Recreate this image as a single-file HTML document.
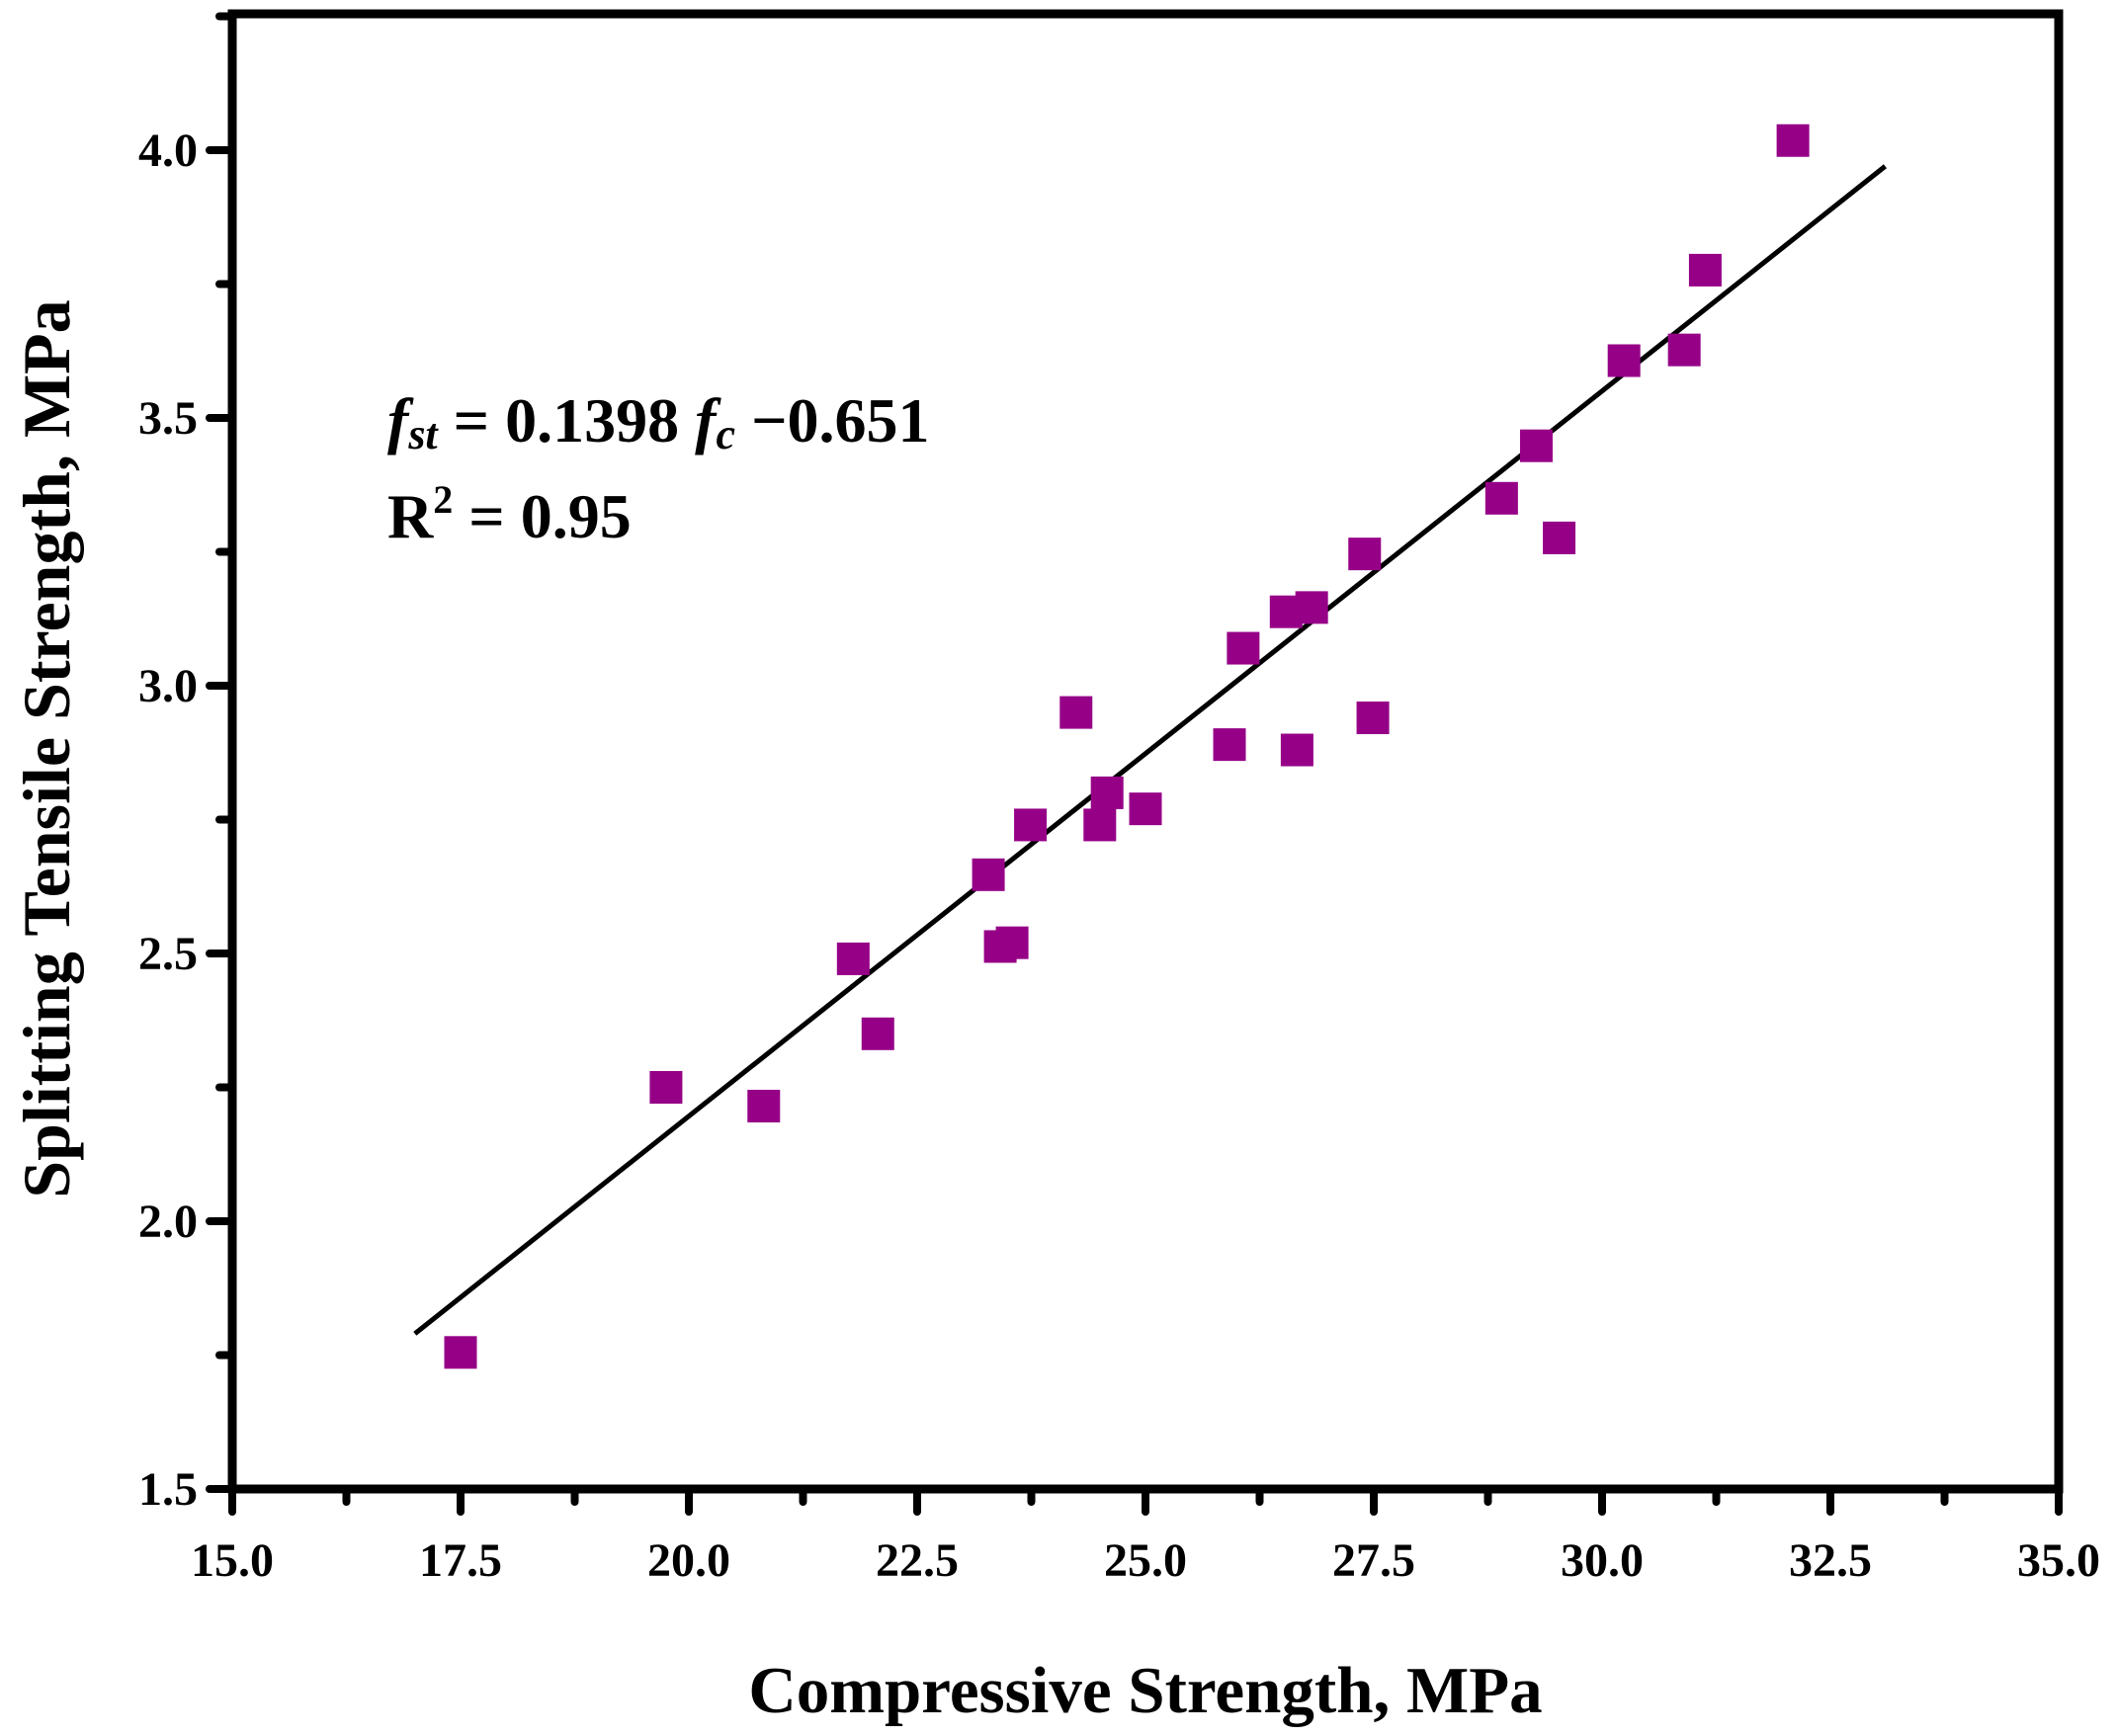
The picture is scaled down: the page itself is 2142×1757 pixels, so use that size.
<!DOCTYPE html>
<html><head><meta charset="utf-8"><style>
html,body{margin:0;padding:0;background:#fff;}
svg{display:block;font-family:"Liberation Serif",serif;font-weight:bold;}
</style></head><body>
<svg id="chart" width="2142" height="1757" viewBox="0 0 2142 1757" xmlns="http://www.w3.org/2000/svg">
<g id="ticks"></g>
<g id="marks"></g>
<rect x="235" y="14" width="1848" height="1493" fill="none" stroke="#000" stroke-width="9"/>
<text x="392" y="447" font-size="64"><tspan font-style="italic">f</tspan><tspan font-style="italic" font-size="44" dy="7">st</tspan><tspan dy="-7"> = 0.1398 </tspan><tspan font-style="italic">f</tspan><tspan font-style="italic" font-size="44" dy="7">c</tspan><tspan dy="-7"> −0.651</tspan></text>
<text x="392" y="544" font-size="64">R<tspan font-size="40" dy="-25">2</tspan><tspan dy="25"> = 0.95</tspan></text>
<text x="1159" y="1733" font-size="67" text-anchor="middle">Compressive Strength, MPa</text>
<text transform="translate(70,758) rotate(-90)" font-size="68" text-anchor="middle">Splitting Tensile Strength, MPa</text>
</svg>
<script>
const xData = [17.5,19.75,20.82,21.8,22.07,23.28,23.41,23.54,23.74,24.24,24.5,24.58,25.0,25.92,26.07,26.54,26.66,26.82,27.4,27.49,28.9,29.28,29.53,30.24,30.9,31.13,32.09];
const yData = [1.755,2.25,2.215,2.49,2.35,2.647,2.513,2.52,2.74,2.95,2.74,2.80,2.77,2.89,3.07,3.138,2.88,3.146,3.246,2.94,3.35,3.448,3.276,3.607,3.627,3.776,4.018];
const fitX = [17.0,33.1];
const fitY = [1.79,3.97];
const xTicks = ["15.0","17.5","20.0","22.5","25.0","27.5","30.0","32.5","35.0"];
const yTicks = ["1.5","2.0","2.5","3.0","3.5","4.0"];

const NS="http://www.w3.org/2000/svg";
function sx(v){return 235+(v-15)*(1848/20);}
function sy(v){return 1507-(v-1.5)*542;}
function mk(tag,attrs,parent){const e=document.createElementNS(NS,tag);for(const k in attrs)e.setAttribute(k,attrs[k]);parent.appendChild(e);return e;}
const tg=document.getElementById('ticks'), mg=document.getElementById('marks');
xTicks.forEach((t,i)=>{
  const v=parseFloat(t),x=sx(v);
  const l=mk('line',{x1:x,y1:1507,x2:x,y2:1530,stroke:'#000','stroke-width':8,'stroke-linecap':'round'},tg);
  
  
  if(i<xTicks.length-1){const xm=sx(v+1.25);
    const m=mk('line',{x1:xm,y1:1507,x2:xm,y2:1520,stroke:'#000','stroke-width':8,'stroke-linecap':'round'},tg);
    
    }
  const tx=mk('text',{x:x,y:1595,'font-size':48,'text-anchor':'middle'},tg);tx.textContent=t;
  
  
});
yTicks.forEach((t,i)=>{
  const v=parseFloat(t),y=sy(v);
  const l=mk('line',{x1:212,y1:y,x2:235,y2:y,stroke:'#000','stroke-width':8,'stroke-linecap':'round'},tg);
  
  
  const ym=sy(v+0.25);
  const m=mk('line',{x1:222,y1:ym,x2:235,y2:ym,stroke:'#000','stroke-width':8,'stroke-linecap':'round'},tg);
  
  
  const tx=mk('text',{x:200,y:y+16,'font-size':48,'text-anchor':'end'},tg);tx.textContent=t;
  
  
});
const fl=mk('line',{x1:sx(fitX[0]),y1:sy(fitY[0]),x2:sx(fitX[1]),y2:sy(fitY[1]),stroke:'#000','stroke-width':5},mg);


const S=33;
xData.forEach((xv,i)=>{
  const r=mk('rect',{x:sx(xv)-S/2,y:sy(yData[i])-S/2,width:S,height:S,fill:'#960087'},mg);
  
  
});
</script>
</body></html>
